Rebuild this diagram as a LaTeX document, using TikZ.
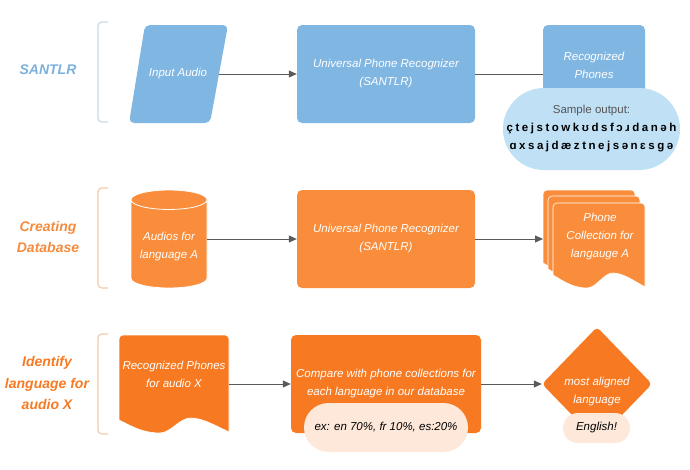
\documentclass[tikz,border=0pt]{standalone}
\usepackage{fontspec}
\setmainfont{Liberation Sans}
\newfontfamily\ipafont[LetterSpace=22]{Liberation Sans}
\usetikzlibrary{arrows.meta, shapes.geometric, calc}

\definecolor{santblue}{HTML}{80B6E2}
\definecolor{paleblue}{HTML}{BFE0F5}
\definecolor{lblblue}{HTML}{7DB1DD}
\definecolor{brblue}{HTML}{C9D9E9}
\definecolor{dbor}{HTML}{F98D3B}
\definecolor{idor}{HTML}{F77A22}
\definecolor{lblor}{HTML}{F58B3D}
\definecolor{brorange}{HTML}{F6C9A6}
\definecolor{peach}{HTML}{FDE8DA}
\definecolor{arrgray}{HTML}{5A5A5A}
\definecolor{txtgray}{HTML}{555555}

% document sheet with a wavy bottom: colour, x1, y1, x2, y2
\newcommand{\docsheet}[5]{%
  \filldraw[fill=#1, draw=white, line width=0.6pt] ({#2},{#5-12}) [rounded corners=4] -- ({#2},{#3}) -- ({#4},{#3}) [sharp corners] -- ({#4},{#5})
    .. controls ({#4-0.15*(#4-#2)},{#5-8}) and ({#2+0.75*(#4-#2)},{#5-14}) .. ({#2+0.65*(#4-#2)},{#5-14})
    .. controls ({#2+0.55*(#4-#2)},{#5-14}) and ({#2+0.47*(#4-#2)},{#5+1}) .. ({#2+0.37*(#4-#2)},{#5+1})
    .. controls ({#2+0.2*(#4-#2)},{#5+1}) and ({#2+0.08*(#4-#2)},{#5-8}) .. ({#2},{#5-12}) -- cycle;}

\begin{document}
\begin{tikzpicture}[x=1pt, y=-1pt,
    boxtxt/.style = {text=white, font=\fontsize{11.5}{18}\selectfont\itshape, align=center},
    box/.style = {boxtxt, rounded corners=5},
    pill/.style = {font=\fontsize{11.5}{18}\selectfont, align=center},
    rowlbl/.style = {font=\fontsize{14}{21.5}\selectfont\bfseries\itshape, align=center},
    bracket/.style = {line width=1.2pt, rounded corners=4},
    arr/.style = {draw=arrgray, line width=0.8pt, -{Triangle[length=8pt, width=7pt]}}]

\useasboundingbox (0,0) rectangle (690,469);

%SANTLR row
        \node[rowlbl, text=lblblue] (lblA) at (48,70) {SANTLR};
        \draw[bracket, brblue] (108,22) -- (98,22) -- (98,122) -- (108,122);

        \fill[santblue, rounded corners=5] (145,25) -- (228,25) -- (210,123) -- (129,123) -- cycle;
        \node[boxtxt, minimum width=82] (inaudio) at (178,74) {Input Audio};
        \node[box, fill=santblue, minimum width=178, minimum height=98] (uprA) at (386,74) {Universal Phone Recognizer\\(SANTLR)};
        \node[box, fill=santblue, minimum width=102, minimum height=80] (recph) at (594,65) {Recognized\\Phones};
        \node[pill, fill=paleblue, rounded corners=41, minimum width=177, minimum height=82] (sample) at (591.5,129)
            {\textcolor{txtgray}{Sample output:}\\{\ipafont\bfseries çtejstowkʊdsfɔɹdanəh}\\{\ipafont\bfseries ɑxsajdæztnejsənɛsgə}};

        \draw[arr] (inaudio) -- (uprA);
        \draw[draw=arrgray, line width=0.8pt] (uprA) -- (uprA -| recph.west);

%creating database row
        \node[rowlbl, text=lblor] (lblB) at (48,237) {Creating\\Database};
        \draw[bracket, brorange] (108,188) -- (98,188) -- (98,288) -- (108,288);

        \node[cylinder, shape border rotate=90, aspect=0.3, fill=dbor, draw=white, line width=0.8pt,
            minimum width=76, minimum height=98, anchor=shape center, boxtxt] (audA) at (169,239) {Audios for\\language A};
        \node[box, fill=dbor, minimum width=178, minimum height=98] (uprB) at (386,239) {Universal Phone Recognizer\\(SANTLR)};

        \docsheet{dbor}{543}{190}{635}{275}
        \docsheet{dbor}{548}{196}{640}{281}
        \docsheet{dbor}{553}{203}{645}{287}
        \node[boxtxt] (phcoll) at (600,237) {Phone\\Collection for\\langauge A};
        \coordinate (phin) at (543,239);

        \draw[arr] (audA.east |- uprB.west) -- (uprB.west);
        \draw[arr] (uprB) -- (phin);

%identify language row
        \node[rowlbl, text=idor] (lblC) at (47,383) {Identify\\language for\\audio X};
        \draw[bracket, brorange] (108,334) -- (98,334) -- (98,434) -- (108,434);

        \docsheet{idor}{119}{335}{229}{432}
        \node[boxtxt, minimum width=110] (recX) at (174,374) {Recognized Phones\\for audio X};
        \node[box, fill=idor, minimum width=190, minimum height=98] (cmp) at (386,384) {Compare with phone collections for\\each language in our database};
        \node[pill, fill=peach, rounded corners=24.5, minimum width=164, minimum height=49, font=\fontsize{11.5}{18}\selectfont\itshape] (exA) at (386,427.5) {ex: en 70\%, fr 10\%, es:20\%};

        \node[diamond, fill=idor, rounded corners=4, inner sep=0, minimum width=110, minimum height=114] (best) at (597,384) {};
        \node[boxtxt] (bestlbl) at (597,392) {most aligned\\language};
        \node[pill, fill=peach, rounded corners=15, minimum width=67, minimum height=30, font=\fontsize{11.5}{18}\selectfont\itshape] (eng) at (596.5,428) {English!};

        \draw[arr] (recX.east |- cmp.west) -- (cmp.west);
        \draw[arr] (cmp) -- (best);
\end{tikzpicture}
\end{document}
